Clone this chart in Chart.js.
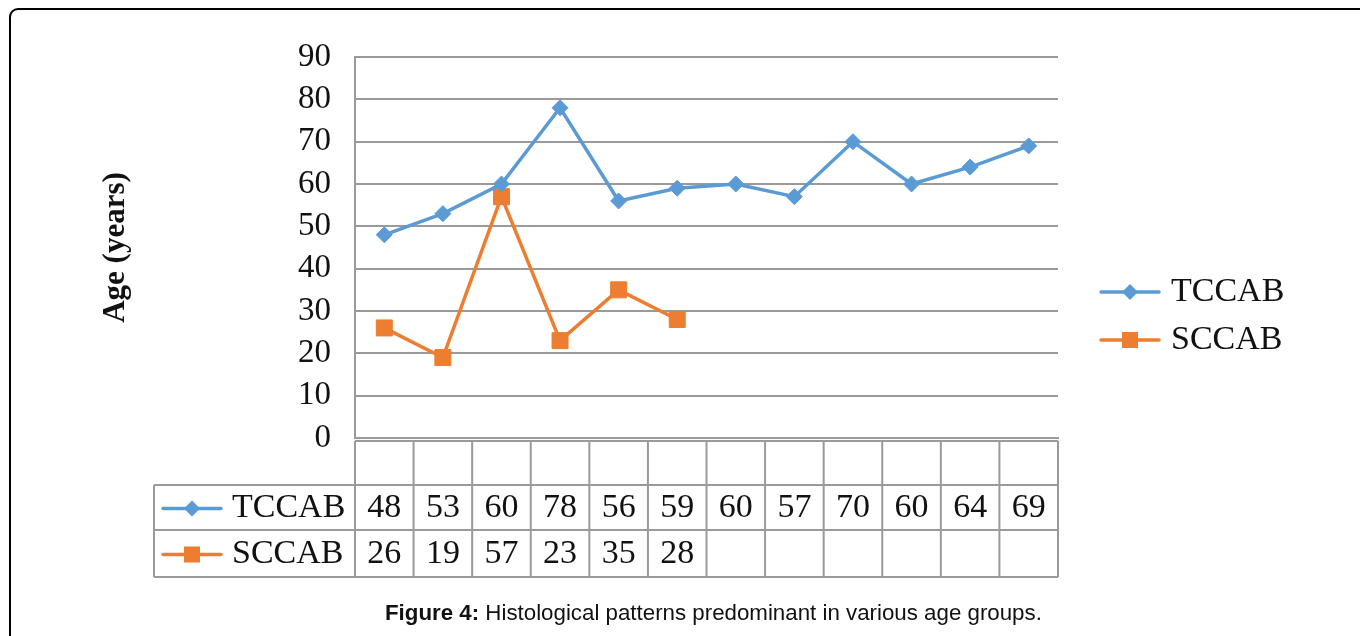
<!DOCTYPE html>
<html>
<head>
<meta charset="utf-8">
<script src="https://cdn.jsdelivr.net/npm/chart.js@4.4.1/dist/chart.umd.min.js"></script>
<style>
  html, body { margin: 0; padding: 0; background: #fff; }
  #wrap { position: relative; width: 1360px; height: 636px; overflow: hidden; }
  #frame { position: absolute; left: 9px; top: 8px; width: 1400px; height: 700px;
           border: 2px solid #000; border-radius: 9px; box-sizing: border-box; }
  #chart { position: absolute; left: 0; top: 0; }
  #caption { position: absolute; left: 385px; top: 600px; font-family: "Liberation Sans", Arial, sans-serif;
             font-size: 22.3px; color: #111; white-space: nowrap; }
</style>
</head>
<body>
<div id="wrap">
  <div id="frame"></div>
  <canvas id="chart" width="1360" height="636"></canvas>
  <div id="caption"><b>Figure 4:</b> Histological patterns predominant in various age groups.</div>
</div>
<script>
// ---- datos ----
const categories = ['', '', '', '', '', '', '', '', '', '', '', ''];
const tccab = [48, 53, 60, 78, 56, 59, 60, 57, 70, 60, 64, 69];
const sccab = [26, 19, 57, 23, 35, 28, null, null, null, null, null, null];
const yTicks = [0, 10, 20, 30, 40, 50, 60, 70, 80, 90];

const BLUE = '#5b9bd5';
const ORANGE = '#ed7d31';
const GRID = '#9a9a9a';
const SERIF = '"Liberation Serif", "Times New Roman", serif';

// dibuja la muestra de leyenda (línea + marcador)
function drawSwatch(ctx, ds, cx, cy) {
  ctx.save();
  ctx.strokeStyle = ds.borderColor;
  ctx.lineWidth = 3.5;
  ctx.lineCap = 'round';
  ctx.beginPath();
  ctx.moveTo(cx - 29, cy);
  ctx.lineTo(cx + 29, cy);
  ctx.stroke();
  ctx.fillStyle = ds.pointBackgroundColor;
  ctx.beginPath();
  if (ds.pointStyle === 'rectRot') {
    const r = 8;
    ctx.moveTo(cx, cy - r); ctx.lineTo(cx + r, cy); ctx.lineTo(cx, cy + r); ctx.lineTo(cx - r, cy);
    ctx.closePath();
  } else {
    ctx.rect(cx - 8, cy - 8, 16, 16);
  }
  ctx.fill();
  ctx.restore();
}

// tabla de datos + leyenda lateral
const tablePlugin = {
  id: 'dataTable',
  afterDraw(chart) {
    const { ctx, chartArea, scales: { x } } = chart;
    const colW = (chartArea.right - chartArea.left) / categories.length;
    const top = chartArea.bottom + 3, r1 = 485, r2 = 530, bot = 577, leftX = 154;
    ctx.save();
    ctx.strokeStyle = GRID;
    ctx.lineWidth = 2;
    ctx.beginPath();
    ctx.moveTo(chartArea.left, top); ctx.lineTo(chartArea.right, top);
    [r1, r2, bot].forEach(y => { ctx.moveTo(leftX, y); ctx.lineTo(chartArea.right, y); });
    ctx.moveTo(leftX, r1); ctx.lineTo(leftX, bot);
    for (let i = 0; i <= categories.length; i++) {
      const px = i < categories.length ? x.getPixelForValue(i) - colW / 2 : chartArea.right;
      ctx.moveTo(px, top); ctx.lineTo(px, bot);
    }
    ctx.stroke();

    ctx.fillStyle = '#111';
    ctx.font = '34px ' + SERIF;
    ctx.textBaseline = 'middle';
    const rows = [[r1, r2], [r2, bot]];
    chart.data.datasets.forEach((ds, di) => {
      const cy = (rows[di][0] + rows[di][1]) / 2 + 1;
      ctx.textAlign = 'center';
      ds.data.forEach((v, i) => {
        if (v !== null) ctx.fillText(String(v), x.getPixelForValue(i), cy);
      });
      drawSwatch(ctx, ds, 192, cy);
      ctx.textAlign = 'left';
      ctx.fillStyle = '#111';
      ctx.fillText(ds.label, 232, cy);

      // leyenda a la derecha
      const ly = 292 + di * 48;
      drawSwatch(ctx, ds, 1130, ly);
      ctx.fillStyle = '#111';
      ctx.fillText(ds.label, 1171, ly);
    });
    ctx.restore();
  }
};

new Chart(document.getElementById('chart'), {
  type: 'line',
  data: {
    labels: categories,
    datasets: [
      {
        label: 'TCCAB',
        data: tccab,
        borderColor: BLUE,
        backgroundColor: BLUE,
        pointBackgroundColor: BLUE,
        pointBorderColor: BLUE,
        borderWidth: 3.5,
        pointStyle: 'rectRot',
        pointRadius: 8,
        pointBorderWidth: 1,
        tension: 0
      },
      {
        label: 'SCCAB',
        data: sccab,
        borderColor: ORANGE,
        backgroundColor: ORANGE,
        pointBackgroundColor: ORANGE,
        pointBorderColor: ORANGE,
        borderWidth: 3.5,
        pointStyle: 'rect',
        pointRadius: 11.3,
        pointBorderWidth: 1,
        tension: 0
      }
    ]
  },
  options: {
    responsive: false,
    animation: false,
    layout: { padding: { left: 0, top: 57, right: 302, bottom: 198 } },
    plugins: {
      legend: { display: false },
      tooltip: { enabled: false }
    },
    scales: {
      x: {
        offset: true,
        grid: { display: false, drawTicks: false },
        border: { display: true, color: GRID, width: 2 },
        ticks: { display: false }
      },
      y: {
        min: 0,
        max: 90,
        afterBuildTicks: s => { s.ticks = yTicks.map(v => ({ value: v })); },
        afterFit: s => { s.width = 355; },
        grid: { color: GRID, lineWidth: 2, drawTicks: false },
        border: { display: true, color: GRID, width: 2 },
        ticks: {
          autoSkip: false,
          padding: 24,
          color: '#111',
          font: { family: SERIF, size: 33 }
        },
        title: {
          display: true,
          text: 'Age (years)',
          color: '#111',
          padding: { top: 97, bottom: 0 },
          font: { family: SERIF, size: 31, weight: 'bold' }
        }
      }
    }
  },
  plugins: [tablePlugin]
});
</script>
</body>
</html>
